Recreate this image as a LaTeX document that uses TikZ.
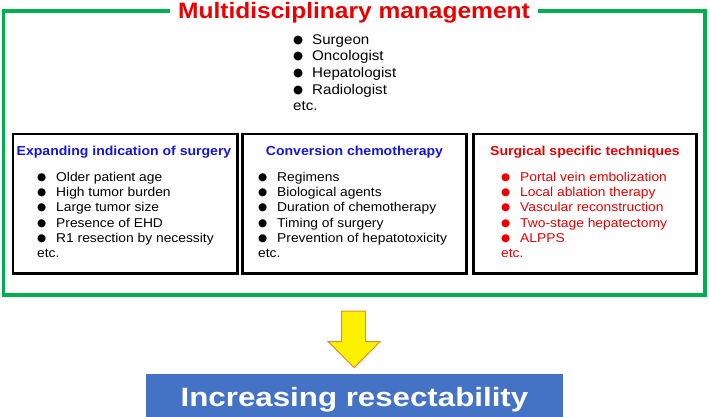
\documentclass[tikz,border=0pt]{standalone}
\usepackage{fontspec}
\setmainfont{Liberation Sans}
\newfontfamily\fa[FakeStretch=1.08]{Liberation Sans}
\newfontfamily\fb[FakeStretch=1.1]{Liberation Sans}
\newfontfamily\fc[FakeStretch=1.18]{Liberation Sans}
\newfontfamily\dvs{DejaVu Sans}
\definecolor{mgreen}{RGB}{0,176,80}
\definecolor{mred}{RGB}{235,0,0}
\definecolor{mblue}{RGB}{20,20,225}
\definecolor{boxblue}{RGB}{68,114,196}
\definecolor{arrowedge}{RGB}{230,140,40}
\newcommand{\mybul}{\makebox[19pt][l]{\raisebox{1pt}{\dvs\fontsize{10.5}{10}\selectfont ●}}}
\newcommand{\mybulbig}{\makebox[19pt][l]{\raisebox{1pt}{\dvs\fontsize{11.5}{10}\selectfont ●}}}
\begin{document}
\begin{tikzpicture}[x=1pt,y=-1pt,
  frame/.style={draw=mgreen, line width=3.5pt, line join=miter},
  box/.style={draw=black, line width=2.8pt, inner sep=0pt},
  hdr/.style={font=\fa\bfseries\fontsize{13}{15}\selectfont, anchor=base, inner sep=0pt},
  item/.style={font=\fa\fontsize{12.8}{15}\selectfont, anchor=base west, inner sep=0pt},
  topitem/.style={font=\fa\fontsize{14}{16}\selectfont, anchor=base west, inner sep=0pt},
]
\useasboundingbox (0,0) rectangle (709,417);

% title and green frame
\node[font=\fb\bfseries\fontsize{22.3}{26}\selectfont, text=mred, anchor=base,
      inner xsep=8pt, inner ysep=0pt] (title) at (354,18.3) {Multidisciplinary management};
\coordinate (tl) at (3.5,11);
\coordinate (tr) at (705,11);
\coordinate (bl) at (3.5,295);
\coordinate (br) at (705,295);
\draw[frame] (title.west |- tl) -- (tl) -- (bl) -- (br) -- (tr) -- (title.east |- tr);

% top list
\foreach \t [count=\i] in {Surgeon,Oncologist,Hepatologist,Radiologist}
  \node[topitem] (md\i) at (293,{44.3+16.7*(\i-1)}) {\mybulbig\t};
\node[topitem] (mdetc) at (293,111) {etc.};

% boxes
\node[box, minimum width=224.7pt, minimum height=139.3pt] (b1) at (125.3,203.7) {};
\node[box, minimum width=224.4pt, minimum height=139.3pt] (b2) at (354.5,203.7) {};
\node[box, minimum width=223.4pt, minimum height=139.3pt] (b3) at (585,203.7) {};

\node[hdr, text=mblue] (h1) at (124,155.3) {Expanding indication of surgery};
\node[hdr, text=mblue] (h2) at (354.5,155.3) {Conversion chemotherapy};
\node[hdr, text=mred] (h3) at (585,155.3) {Surgical specific techniques};

\foreach \t [count=\i] in {Older patient age,High tumor burden,Large tumor size,Presence of EHD,R1 resection by necessity}
  \node[item] (a\i) at (37,{181.7+15.1*(\i-1)}) {\mybul\t};
\node[item] (aetc) at (37,257.3) {etc.};

\foreach \t [count=\i] in {Regimens,Biological agents,Duration of chemotherapy,Timing of surgery,Prevention of hepatotoxicity}
  \node[item] (c\i) at (258,{181.7+15.1*(\i-1)}) {\mybul\t};
\node[item] (cetc) at (258,257.3) {etc.};

\foreach \t [count=\i] in {Portal vein embolization,Local ablation therapy,Vascular reconstruction,Two-stage hepatectomy,ALPPS}
  \node[item, text=mred] (s\i) at (501,{181.7+15.1*(\i-1)}) {\mybul\t};
\node[item, text=mred] (setc) at (501,257.3) {etc.};

% arrow
\draw[fill=yellow, draw=arrowedge, line width=1pt, line join=miter]
  (341.7,311) -- (365.7,311) -- (365.7,341.7) -- (380,341.7) -- (354.2,367.7)
  -- (328.3,341.7) -- (341.7,341.7) -- cycle;

% result box
\node[fill=boxblue, minimum width=417pt, minimum height=43pt, inner sep=0pt,
      text=white, font=\fc\bfseries\fontsize{26.5}{30}\selectfont,
      text height=21pt, text depth=0pt] (res) at (354.5,395.5) {Increasing resectability};
\end{tikzpicture}
\end{document}
